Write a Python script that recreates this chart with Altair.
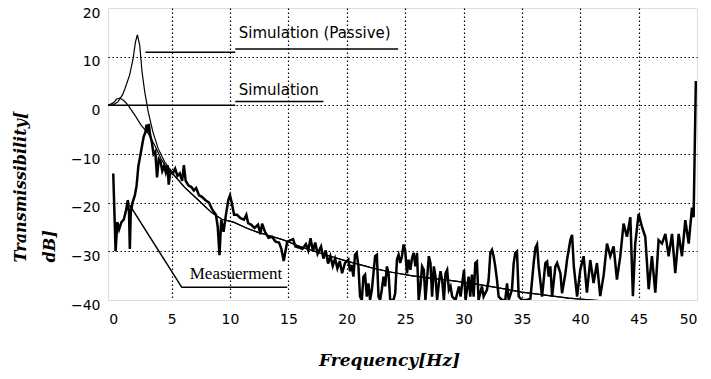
import altair as alt
import pandas as pd

# ---------------- data ----------------
meas_f = [0.0, 0.1, 0.2, 0.35, 0.5, 0.7, 0.9, 1.1, 1.25, 1.35, 1.42, 1.5, 1.65, 1.85, 2.0,
          2.15, 2.3, 2.45, 2.6, 2.75, 2.85, 2.95, 3.05, 3.15, 3.3, 3.45, 3.6, 3.75, 3.9, 4.05,
          4.2, 4.35, 4.5, 4.65, 4.75, 4.9, 5.1, 5.3, 5.5, 5.7, 5.9, 6.05, 6.2, 6.45, 6.7,
          6.9, 7.1, 7.35, 7.6, 7.9, 8.2, 8.5, 8.8, 8.95, 9.1, 9.25, 9.45, 9.65, 9.85, 10.0,
          10.15, 10.35, 10.6, 10.9, 11.2, 11.4, 11.55, 11.8, 12.1, 12.4, 12.6, 12.75, 13.0, 13.3, 13.6,
          13.9, 14.2, 14.4, 14.6, 14.75, 14.9, 15.1, 15.4, 15.6, 15.9, 16.2, 16.5, 16.7, 16.9, 17.1,
          17.3, 17.5, 17.8, 18.0, 18.2, 18.4, 18.6, 18.8, 19.0, 19.2, 19.4, 19.6,
          19.85, 20.14, 20.28, 20.42, 20.57, 20.71, 20.85, 21.0, 21.14, 21.29, 21.43, 21.57, 21.72, 21.86, 22.0,
          22.15, 22.43, 22.58, 22.72, 22.86, 23.0, 23.15, 23.29, 23.44, 23.58, 23.72, 24.0, 24.15, 24.3, 24.44,
          24.58, 24.73, 24.87, 25.0, 25.16, 25.3, 25.45, 25.59, 25.73, 25.88, 26.02, 26.16, 26.31, 26.45, 26.6,
          26.74, 27.03, 27.17, 27.31, 27.46, 27.6, 27.74, 27.89, 28.03, 28.17, 28.32, 28.46, 28.6, 28.75, 28.89,
          29.03, 29.32, 29.61, 29.75, 30.04, 30.18,
          30.44, 30.58, 30.72, 30.87, 31.01, 31.15, 31.29, 31.58, 31.72, 32.01, 32.15, 32.3, 32.44, 32.58, 32.72,
          32.87, 33.01, 33.3, 33.58, 33.73, 33.87, 34.15, 34.3, 34.44, 34.58, 34.73, 35.01, 35.44, 35.73, 36.01,
          36.16, 36.3, 36.44, 36.73, 37.01, 37.16, 37.3, 37.44, 37.59, 37.87, 38.02, 38.3, 38.44, 38.73, 38.87,
          39.16, 39.3, 39.45, 39.73, 40.0,
          40.29, 40.57, 40.86, 41.14, 41.43, 41.71, 42.0, 42.29, 42.57, 42.86, 43.14, 43.43, 43.71, 44.0, 44.29,
          44.51, 44.71, 45.0, 45.29, 45.57, 45.86, 46.14, 46.43, 46.71, 47.0, 47.29, 47.57, 47.86, 48.14, 48.43,
          48.71, 49.0, 49.29, 49.57, 49.71, 49.9]
meas_db = [-14.0, -22, -30, -24, -25.5, -24, -23.5, -21.5, -19.5, -22, -29.5, -22, -20, -18.5, -16.5,
           -12.5, -10.5, -8.5, -6.5, -5.5, -4, -5.5, -3.8, -6, -7.5, -10, -9.5, -14.8, -11, -11.5,
           -13.5, -12.5, -13.8, -12.3, -16.3, -13.5, -14, -13, -14.5, -14, -15.5, -12.3, -15.5, -16.5, -16.8,
           -17.5, -17, -18.5, -18.8, -19.5, -20, -21.5, -22.5, -25, -30.8, -23.5, -26, -22.5, -19.5, -18.5,
           -20, -22.5, -22.5, -23.2, -23.5, -22.5, -24.2, -24.5, -25.2, -24.5, -26.5, -24.3, -26, -27.2, -27,
           -28, -28.2, -29.5, -32, -30, -28, -27.8, -27.5, -29, -29.2, -29.5, -28.5, -29.8, -27.3, -30,
           -28.2, -30.5, -29, -31.5, -29.8, -32.5, -31, -33, -31.5, -33.5, -32, -34.5,
           -32.4, -31.7, -34.1, -32.8, -35.2, -30.7, -30.3, -33.1, -39.3, -40, -35.2, -34.8, -39.3, -36.6, -40,
           -37.9, -31.0, -30.7, -39.3, -40, -37.9, -35.2, -37.2, -33.1, -34.5, -40, -40, -38.6, -31.7, -30.7,
           -32.4, -31.0, -28.6, -29.7, -34.5, -31.7, -33.8, -31.4, -30.3, -33.1, -30.3, -40, -37.2, -33.1, -33.8,
           -40, -31.0, -32.4, -39.3, -33.1, -35.2, -40, -36.6, -34.1, -35.9, -40, -34.5, -33.8, -37.9, -37.2,
           -39.3, -40, -37.2, -39.3, -33.8, -40,
           -35.2, -39.3, -34.8, -39.3, -32.4, -32.1, -40, -37.2, -39.3, -37.9, -35.9, -30.3, -29.7, -31.0, -33.1,
           -35.9, -39.3, -40, -40, -36.6, -40, -37.9, -32.4, -30.3, -30.0, -39.3, -40, -40, -39.7, -32.4,
           -29.3, -28.6, -33.1, -39.3, -32.4, -32.1, -35.2, -33.1, -39.3, -33.1, -32.4, -34.5, -38.6, -34.5, -31.7,
           -27.6, -26.6, -33.1, -39.3, -33.8,
           -31, -38.5, -31.8, -36.5, -32.4, -39.2, -35, -28.4, -31, -29, -35.8, -31, -24.3, -27, -23,
           -39.2, -28.4, -22.3, -25, -27, -37.8, -31, -38.5, -27.7, -28.4, -26.4, -31, -26.4, -34.5, -26.4,
           -31, -23.6, -28.4, -21, -23, 5]

passive_f = [-0.45, 0.0, 0.4, 0.8, 1.0, 1.4, 1.7, 1.9, 2.07, 2.27, 2.47, 2.7, 3.0, 3.4, 3.85, 4.4, 5.3]
passive_db = [0.0, 0.1, 0.7, 2.2, 3.4, 6.2, 9.6, 13.0, 14.5, 12.3, 6.8, 2.7, -1.4, -5.5, -8.9, -11.6, -14.6]

active_f = [-0.45, 0.0, 0.3, 0.55, 0.9, 1.25, 1.85, 2.4, 3.0, 3.55, 4.1, 4.7, 5.3]
active_db = [0.0, 0.5, 1.3, 1.5, 1.0, 0.1, -2.0, -4.1, -5.8, -8.2, -11.0, -13.3, -14.6]

tail_f = [6.1, 7.3, 8.4, 9.3, 10.3, 11.5, 12.4, 13.1, 14.5, 16, 18, 20, 22, 23.6, 25.5, 27.1, 29,
          31, 33, 35, 37, 39, 41, 42.5]
tail_db = [-16.8, -19.5, -22.0, -23.4, -24.0, -25.3, -26.1, -26.6, -27.6, -29.0, -30.6, -32.0, -33.3,
           -34.2, -35.0, -35.5, -36.0, -36.7, -37.5, -38.4, -39.0, -39.6, -40.0, -40.3]

x_ticks = [0, 5, 10, 15, 20, 25, 30, 35, 40, 45, 50]
y_ticks = [-40, -30, -20, -10, 0, 10, 20]

label_text = ["Simulation (Passive)", "Simulation", "Measuerment"]
label_f = [10.75, 10.75, 6.55]
label_db = [14.8, 3.1, -34.7]

# annotation leader / underline segments (frequency, dB)
seg_id = ["p1", "p1", "p2", "p2", "s1", "s1", "s2", "s2", "m1", "m1", "m1"]
seg_f = [2.76, 10.45, 10.45, 24.4, -0.45, 10.45, 10.45, 18.0, 1.41, 5.87, 14.9]
seg_db = [10.9, 10.9, 11.6, 11.6, 0.0, 0.0, 0.8, 0.8, -20.5, -37.4, -37.4]

# ---------------- build tables ----------------
sim_df = pd.concat([
    pd.DataFrame({"f": passive_f + tail_f, "db": passive_db + tail_db, "s": "passive"}),
    pd.DataFrame({"f": active_f + tail_f, "db": active_db + tail_db, "s": "active"}),
])
meas_df = pd.DataFrame({"f": meas_f, "db": meas_db})
seg_df = pd.DataFrame({"id": seg_id, "f": seg_f, "db": seg_db, "k": list(range(len(seg_id)))})
lab_df = pd.DataFrame({"t": label_text, "f": label_f, "db": label_db})

edge_x = "datum.value == 0 || datum.value == 50"
edge_y = "datum.value == -40 || datum.value == 20"


def xenc():
    return alt.X("f:Q",
                 scale=alt.Scale(domain=[-0.45, 50], nice=False, zero=False),
                 axis=alt.Axis(values=x_ticks, title="Frequency[Hz]", format="d",
                               labelFont="DejaVu Sans", labelFontSize=14, labelColor="black",
                               labelPadding=12, ticks=False, domain=False,
                               grid=True, gridColor="black", gridDash=[1.5, 2.5], gridWidth=1.2,
                               gridOpacity={"condition": {"test": edge_x, "value": 0}, "value": 1},
                               titleFont="DejaVu Serif", titleFontStyle="italic", titleFontWeight="bold",
                               titleFontSize=17, titleColor="black", titleBaseline="alphabetic",
                               titleAlign="center", titleX=281, titleY=65))


def yenc():
    return alt.Y("db:Q",
                 scale=alt.Scale(domain=[-40, 20], nice=False, zero=False),
                 axis=alt.Axis(values=y_ticks, title=["Transmissibility[", "dB]"], format="d",
                               labelFont="DejaVu Sans", labelFontSize=14, labelColor="black",
                               labelPadding=8, labelOffset=5, ticks=False, domain=False,
                               grid=True, gridColor="black", gridDash=[1.5, 2.5], gridWidth=1.2,
                               gridOpacity={"condition": {"test": edge_y, "value": 0}, "value": 1},
                               titleFont="DejaVu Serif", titleFontStyle="italic", titleFontWeight="bold",
                               titleFontSize=16, titleColor="black", titleAngle=270,
                               titleAlign="left", titleBaseline="top", titleLineHeight=29,
                               titleX=-96, titleY=254))


sim = alt.Chart(sim_df).mark_line(color="black", strokeWidth=1.2, clip=True).encode(
    x=xenc(), y=yenc(), detail="s:N")
meas = alt.Chart(meas_df).mark_line(color="black", strokeWidth=2.5, clip=True,
                                    strokeJoin="miter").encode(x=xenc(), y=yenc())
segs = alt.Chart(seg_df).mark_line(color="black", strokeWidth=1.5).encode(
    x=xenc(), y=yenc(), detail="id:N", order="k:Q")
labels_sans = alt.Chart(lab_df).transform_filter("datum.t != 'Measuerment'").mark_text(
    align="left", baseline="middle", font="DejaVu Sans", fontSize=15, color="black").encode(
    x=xenc(), y=yenc(), text="t:N")
labels_serif = alt.Chart(lab_df).transform_filter("datum.t == 'Measuerment'").mark_text(
    align="left", baseline="middle", font="Liberation Serif", fontSize=17, color="black").encode(
    x=xenc(), y=yenc(), text="t:N")

chart = alt.layer(sim, meas, segs, labels_sans, labels_serif).properties(
    width=589, height=292,
    autosize=alt.AutoSizeParams(type="none"),
    padding={"left": 108, "top": 8, "right": 14, "bottom": 79},
).configure_view(stroke="black", strokeWidth=2.5).configure(background="white")

chart.save("out.html", embed_options={"renderer": "svg", "actions": False})
